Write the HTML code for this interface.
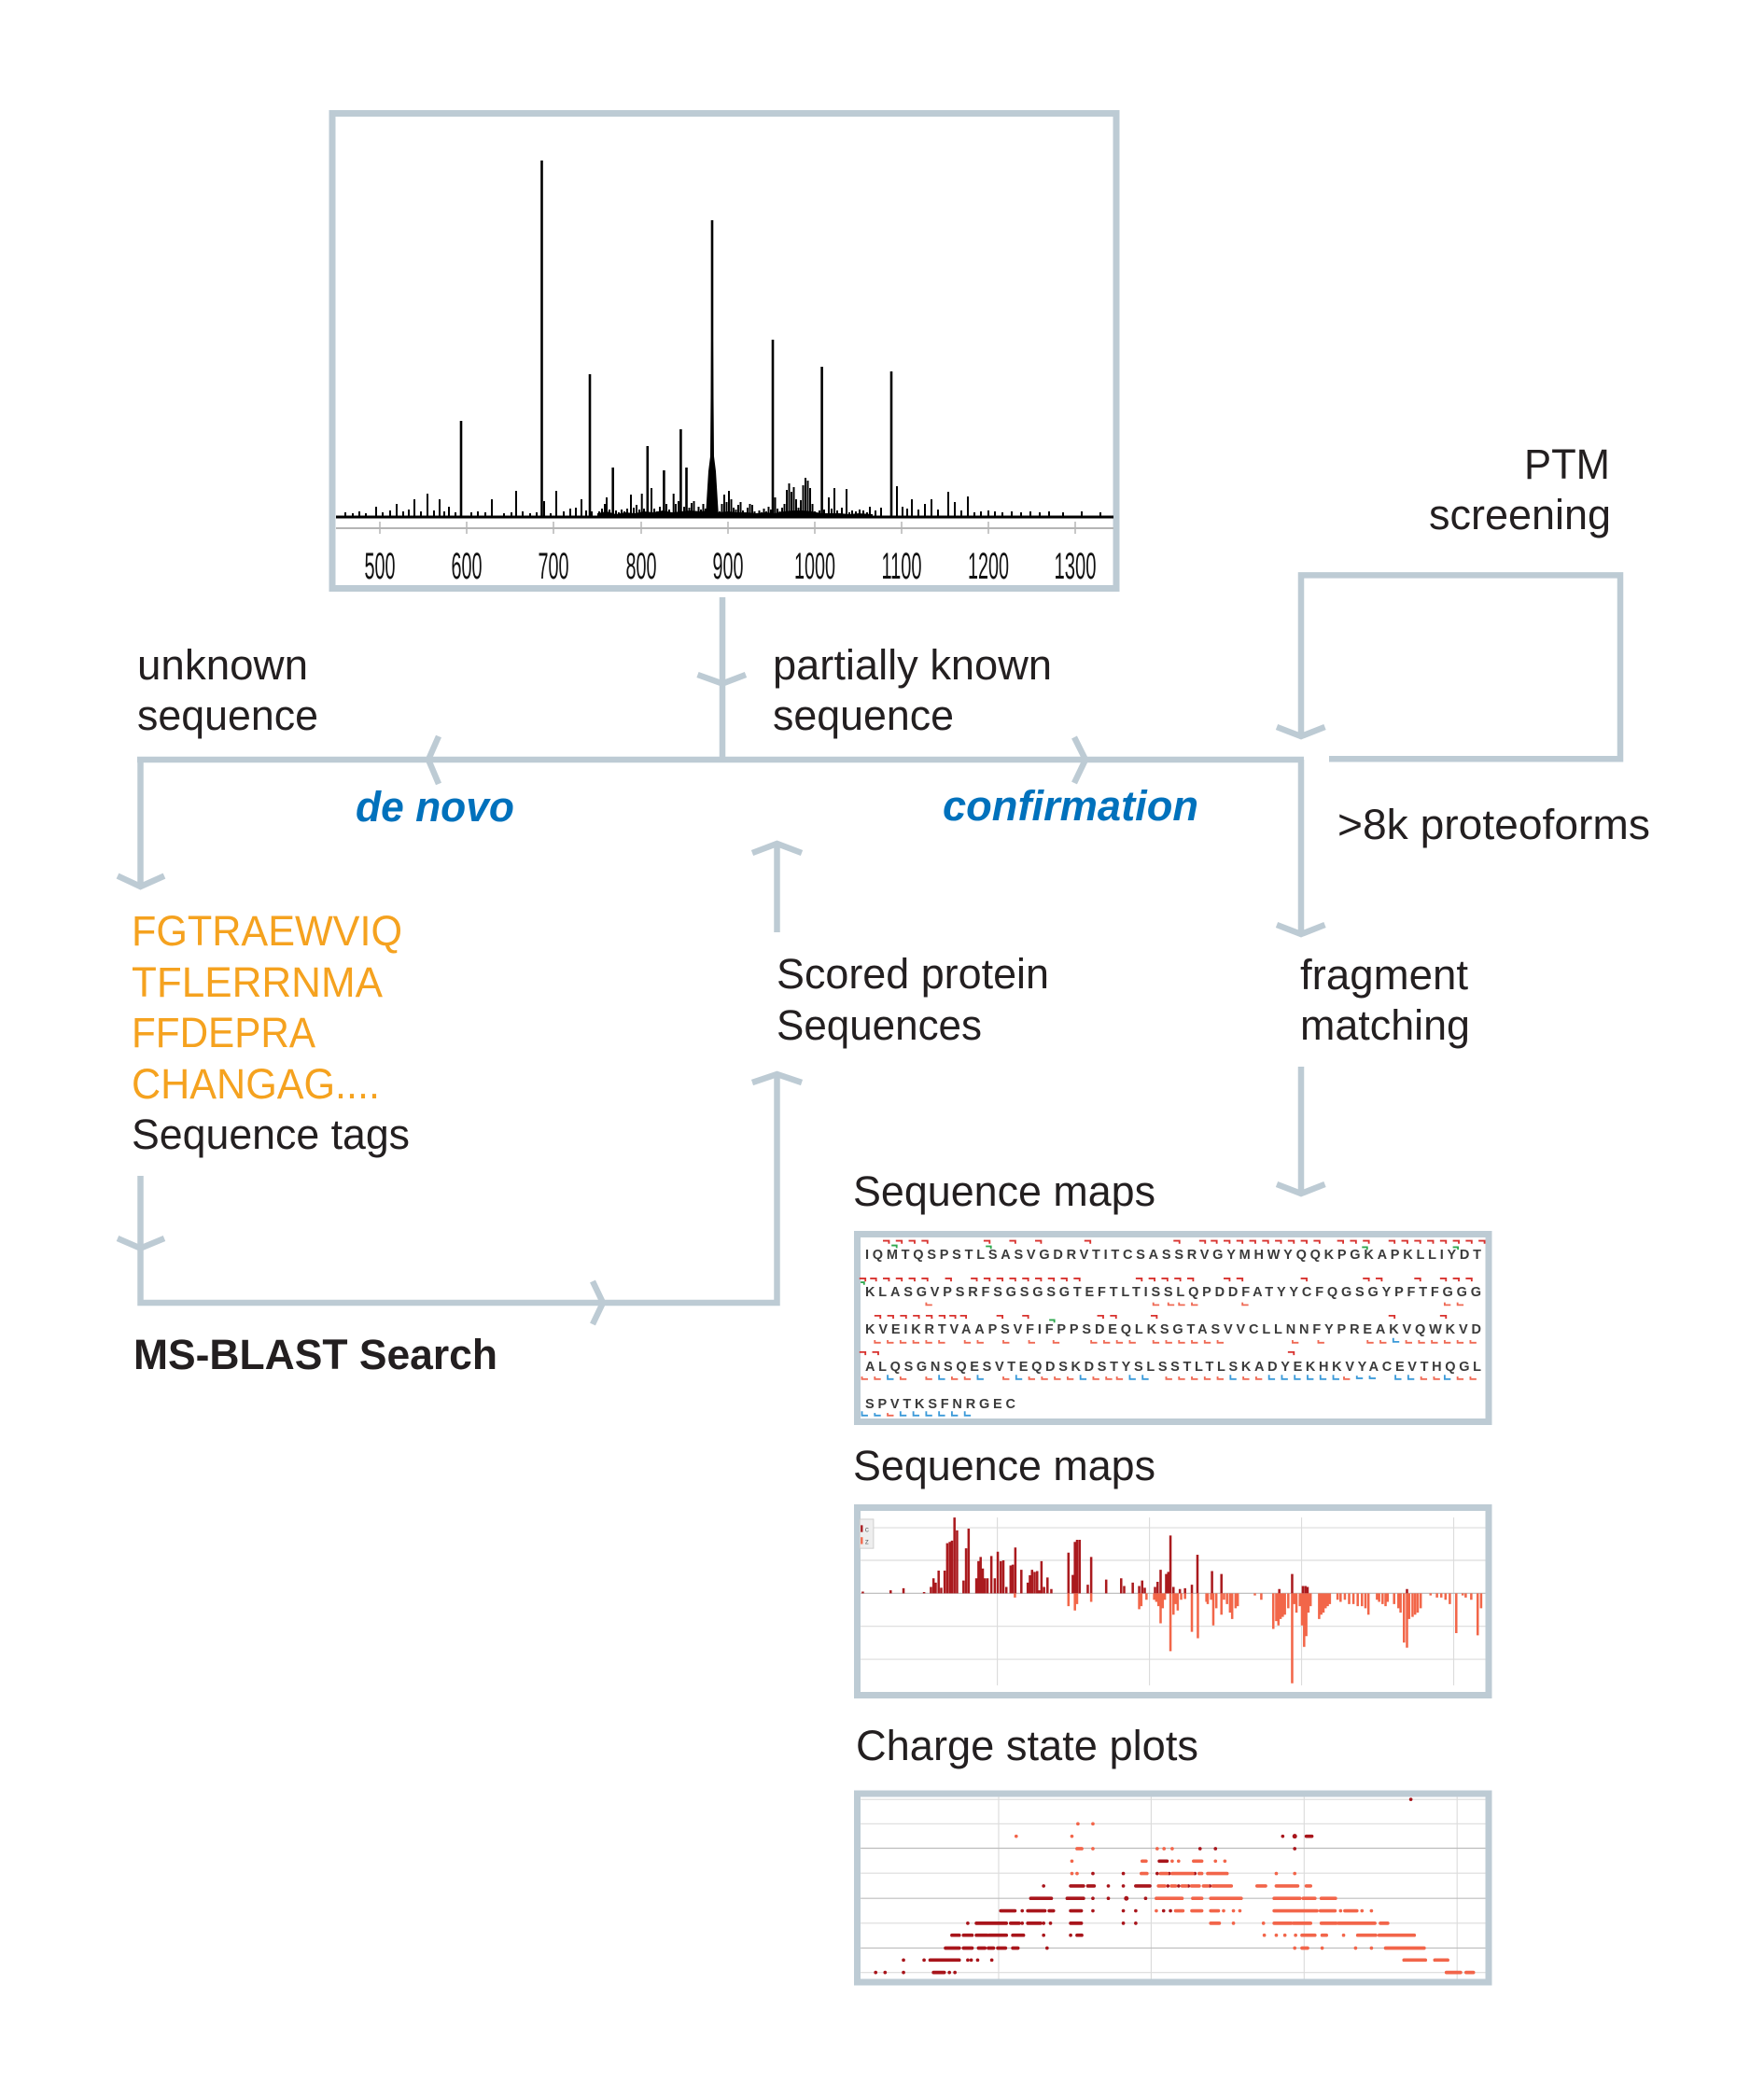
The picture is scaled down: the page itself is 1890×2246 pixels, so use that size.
<!DOCTYPE html>
<html><head><meta charset="utf-8"><style>
html,body{margin:0;padding:0;background:#fff;}
svg{display:block;}
text{font-family:"Liberation Sans",Arial,sans-serif;}
.t{font-size:45px;fill:#231f20;}
.o{font-size:45px;fill:#f5a21f;}
.b{font-size:45px;fill:#0071bc;font-weight:bold;font-style:italic;}
.ln{fill:none;stroke:#bdcbd4;stroke-width:6.5;}
.ax{font-size:40px;fill:#111;}
.seq{font-family:"Liberation Mono",monospace;font-size:14.5px;font-weight:bold;fill:#3a3a3a;}
</style></head><body>
<svg width="1890" height="2246" viewBox="0 0 1890 2246" xmlns="http://www.w3.org/2000/svg">
<rect width="1890" height="2246" fill="#fff"/>

<!-- ===== Spectrum box ===== -->
<rect x="356" y="121.5" width="840" height="509" fill="#fff" stroke="#bdcbd4" stroke-width="7"/>
<line x1="360" y1="566" x2="1193" y2="566" stroke="#b5b5b5" stroke-width="2"/>
<g stroke="#b5b5b5" stroke-width="1.5">
<path d="M407 559V572 M500 559V572 M593 559V572 M687 559V572 M780 559V572 M873 559V572 M966 559V572 M1059 559V572 M1152 559V572"/>
</g>
<g class="ax" text-anchor="middle">
<text x="407" y="620" textLength="33" lengthAdjust="spacingAndGlyphs">500</text>
<text x="500" y="620" textLength="33" lengthAdjust="spacingAndGlyphs">600</text>
<text x="593" y="620" textLength="33" lengthAdjust="spacingAndGlyphs">700</text>
<text x="687" y="620" textLength="33" lengthAdjust="spacingAndGlyphs">800</text>
<text x="780" y="620" textLength="33" lengthAdjust="spacingAndGlyphs">900</text>
<text x="873" y="620" textLength="44" lengthAdjust="spacingAndGlyphs">1000</text>
<text x="966" y="620" textLength="43" lengthAdjust="spacingAndGlyphs">1100</text>
<text x="1059" y="620" textLength="44" lengthAdjust="spacingAndGlyphs">1200</text>
<text x="1152" y="620" textLength="45" lengthAdjust="spacingAndGlyphs">1300</text>
</g>
<!-- baseline -->
<path d="M360 554 H1193" stroke="#000" stroke-width="3" fill="none"/>
<!-- dense band -->
<path d="M640 555 L640 550 L650 548 L660 551 L670 549 L680 550 L690 548 L700 549 L710 547 L720 549 L730 548 L740 547 L750 548 L760 547 L770 549 L780 548 L790 549 L800 549 L810 550 L820 549 L830 550 L840 548 L850 547 L860 547 L870 548 L880 550 L890 550 L900 550 L910 551 L920 550 L935 551 L935 555 Z" fill="#000"/>
<!-- 880 peak broad base -->
<path d="M756 554 L759 505 L761 489 L762.5 300 L763.5 300 L765 489 L767 505 L770 554 Z" fill="#000"/>
<!-- small peaks -->
<path stroke="#000" stroke-width="2" fill="none" d="M370 554V549 M378 554V550 M385 554V548 M392 554V550 M403 554V543 M410 554V549 M418 554V547 M425 554V540 M432 554V548 M438 554V546 M444 554V535 M451 554V548 M458 554V529 M465 554V547 M471 554V535 M476 554V548 M481 554V543 M488 554V549 M505 554V549 M512 554V548 M520 554V549 M527 554V535 M540 554V550 M548 554V549 M553 554V526 M560 554V548 M568 554V550 M575 554V549 M583 554V537 M590 554V550 M596 554V526 M604 554V548 M611 554V545 M617 554V544 M623 554V535 M628 554V547 M634 554V548
M642 554V548 M645 554V545 M648 554V540 M650 554V533 M653 554V546 M660 554V547 M663 554V549 M666 554V546 M669 554V548 M672 554V545 M676 554V530 M679 554V544 M682 554V541 M685 554V546 M687.7 554V529 M690 554V545 M698 554V523 M701 554V545 M704 554V548 M707 554V543 M714 554V540 M717 554V546 M721.7 554V529 M724 554V540 M727 554V537 M733 554V543
M736 554V547 M738.5 554V544 M741 554V539 M743.5 554V537 M746 554V548 M748.5 554V543 M751 554V546 M753.5 554V540 M756 554V545 M771 554V548 M773.5 554V540 M776 554V530 M778.5 554V538 M781 554V526 M783.5 554V535 M786 554V544 M788.5 554V546 M791 554V541 M793.5 554V538 M796 554V547 M798.5 554V549 M801 554V544 M803.5 554V540 M806 554V541 M808.5 554V548 M811 554V550 M813.5 554V547 M816 554V549 M818.5 554V545 M821 554V548 M823.5 554V543 M826 554V546 M830.5 554V533 M833 554V545 M835.5 554V548 M838 554V544 M840.5 554V540 M843 554V525 M845.5 554V518 M848 554V527 M850.5 554V522 M853 554V535 M855.5 554V544 M858 554V536 M860.5 554V520 M863 554V512 M865.5 554V515 M868 554V523 M870.5 554V540 M873 554V548 M876 554V550 M878 554V547 M883 554V546 M888 554V533 M891 554V545 M894 554V523 M897 554V547 M902 554V544 M907 554V524 M910 554V549 M913 554V547 M917 554V548 M921 554V546 M925 554V547 M929 554V549
M932 554V543 M938 554V547 M944 554V544 M961 554V521 M967 554V543 M972 554V545 M977 554V535 M984 554V546 M991 554V540 M998 554V535 M1005 554V546 M1016 554V527 M1023 554V538 M1030 554V547 M1037 554V532 M1044 554V549 M1051 554V548 M1059 554V547 M1066 554V548 M1074 554V549 M1084 554V548 M1094 554V549 M1104 554V548 M1114 554V549 M1124 554V548 M1139 554V549 M1159 554V548 M1179 554V549"/>
<!-- major peaks -->
<path stroke="#000" stroke-width="2.6" fill="none" d="M494 554V451 M580.5 554V172 M632 554V401 M656.7 554V501 M693.8 554V478 M711.4 554V504 M729.4 554V460 M735.5 554V501 M763 554V236 M828 554V364 M880.6 554V393 M955 554V398"/>

<!-- ===== Flow lines ===== -->
<path class="ln" d="M774 640V814 M147 814H1397 M150.5 814V950 M1394 814V1001 M1394 789V616.4H1736V813.3H1424 M1394 1143V1279 M832.5 904V999 M150.5 1260V1396H832.5V1151"/>
<g class="ln">
<path d="M747.5 723L774 732.5L799 723"/>
<path d="M470 789L459 814L470 840"/>
<path d="M1151 790L1163 814L1151 839"/>
<path d="M126 938.6L150.5 950L176 938.6"/>
<path d="M1368 991L1394 1001L1419.5 991"/>
<path d="M1368 779L1394 789L1419.5 779"/>
<path d="M1368 1269L1394 1279L1419.5 1269"/>
<path d="M806 914L832.5 904L859 914"/>
<path d="M806 1160L832.5 1151L859 1160"/>
<path d="M126 1327L150.5 1337.6L176 1327"/>
<path d="M635 1373L646 1396L635 1419"/>
</g>

<!-- ===== Texts ===== -->
<text class="t" x="1725" y="513" text-anchor="end" textLength="92" lengthAdjust="spacingAndGlyphs">PTM</text>
<text class="t" x="1726" y="567" text-anchor="end" textLength="195" lengthAdjust="spacingAndGlyphs">screening</text>
<text class="t" x="147" y="728" textLength="183" lengthAdjust="spacingAndGlyphs">unknown</text>
<text class="t" x="147" y="782" textLength="194" lengthAdjust="spacingAndGlyphs">sequence</text>
<text class="t" x="828" y="728" textLength="299" lengthAdjust="spacingAndGlyphs">partially known</text>
<text class="t" x="828" y="782" textLength="194" lengthAdjust="spacingAndGlyphs">sequence</text>
<text class="b" x="381" y="880" textLength="170" lengthAdjust="spacingAndGlyphs">de novo</text>
<text class="b" x="1010" y="879" textLength="274" lengthAdjust="spacingAndGlyphs">confirmation</text>
<text class="t" x="1433" y="899" textLength="335" lengthAdjust="spacingAndGlyphs">&gt;8k proteoforms</text>
<text class="o" x="141" y="1013" textLength="290" lengthAdjust="spacingAndGlyphs">FGTRAEWVIQ</text>
<text class="o" x="141" y="1068" textLength="269" lengthAdjust="spacingAndGlyphs">TFLERRNMA</text>
<text class="o" x="141" y="1122" textLength="197" lengthAdjust="spacingAndGlyphs">FFDEPRA</text>
<text class="o" x="141" y="1177" textLength="266" lengthAdjust="spacingAndGlyphs">CHANGAG....</text>
<text class="t" x="141" y="1231" textLength="298" lengthAdjust="spacingAndGlyphs">Sequence tags</text>
<text class="t" x="143" y="1467" font-weight="bold" textLength="390" lengthAdjust="spacingAndGlyphs">MS-BLAST Search</text>
<text class="t" x="832" y="1059" textLength="292" lengthAdjust="spacingAndGlyphs">Scored protein</text>
<text class="t" x="832" y="1114" textLength="220" lengthAdjust="spacingAndGlyphs">Sequences</text>
<text class="t" x="1393" y="1060" textLength="180" lengthAdjust="spacingAndGlyphs">fragment</text>
<text class="t" x="1393" y="1114" textLength="182" lengthAdjust="spacingAndGlyphs">matching</text>
<text class="t" x="914" y="1292" textLength="324" lengthAdjust="spacingAndGlyphs">Sequence maps</text>
<text class="t" x="914" y="1586" textLength="324" lengthAdjust="spacingAndGlyphs">Sequence maps</text>
<text class="t" x="917" y="1886" textLength="367" lengthAdjust="spacingAndGlyphs">Charge state plots</text>

<!-- ===== Box 1: sequence map ===== -->
<rect x="918.5" y="1322.5" width="676.5" height="201" fill="#fff" stroke="#bdcbd4" stroke-width="7"/>
<g class="seq">
<text x="927" y="1349" textLength="660" lengthAdjust="spacing">IQMTQSPSTLSASVGDRVTITCSASSRVGYMHWYQQKPGKAPKLLIYDT</text>
<text x="927" y="1389" textLength="660" lengthAdjust="spacing">KLASGVPSRFSGSGSGTEFTLTISSLQPDDFATYYCFQGSGYPFTFGGG</text>
<text x="927" y="1429" textLength="660" lengthAdjust="spacing">KVEIKRTVAAPSVFIFPPSDEQLKSGTASVVCLLNNFYPREAKVQWKVD</text>
<text x="927" y="1469" textLength="660" lengthAdjust="spacing">ALQSGNSQESVTEQDSKDSTYSLSSTLTLSKADYEKHKVYACEVTHQGL</text>
<text x="927" y="1509" textLength="161" lengthAdjust="spacing">SPVTKSFNRGEC</text>
</g>
<g transform="translate(890,1240) scale(0.4591)" fill="none" stroke-width="4">
<path stroke="#d8322e" d="M122 195h14v7 M152 195h14v7 M182 195h14v7 M212 195h14v7 M357 195h14v7 M417 195h14v7 M477 195h14v7 M592 195h14v7 M800 195h14v7 M860 195h14v7 M887 195h14v7 M917 195h14v7 M947 195h14v7 M977 195h14v7 M1007 195h14v7 M1037 195h14v7 M1067 195h14v7 M1097 195h14v7 M1127 195h14v7 M1182 195h14v7 M1212 195h14v7 M1242 195h14v7 M1302 195h14v7 M1332 195h14v7 M1362 195h14v7 M1392 195h14v7 M1422 195h14v7 M1452 195h14v7 M1482 195h14v7 M1512 195h14v7
M67 283h14v7 M92 283h14v7 M122 283h14v7 M152 283h14v7 M182 283h14v7 M212 283h14v7 M267 283h14v7 M327 283h14v7 M357 283h14v7 M387 283h14v7 M417 283h14v7 M447 283h14v7 M477 283h14v7 M507 283h14v7 M537 283h14v7 M567 283h14v7 M712 283h14v7 M742 283h14v7 M772 283h14v7 M802 283h14v7 M832 283h14v7 M917 283h14v7 M947 283h14v7 M1097 283h14v7 M1242 283h14v7 M1272 283h14v7 M1362 283h14v7 M1422 283h14v7 M1452 283h14v7 M1482 283h14v7
M102 370h14v7 M132 370h14v7 M162 370h14v7 M192 370h14v7 M222 370h14v7 M252 370h14v7 M277 370h14v7 M302 370h14v7 M387 370h14v7 M447 370h14v7 M622 370h14v7 M652 370h14v7 M747 370h14v7 M1302 370h14v7 M1422 370h14v7
M67 455h14v7 M97 455h14v7 M1067 455h14v7"/>
<path stroke="#2fa84f" d="M142 206h12v6 M362 208h12v6 M510 380h12v6 M1240 210h12v6 M1452 210h12v6 M70 292h8v6"/>
<path stroke="#ef6a55" d="M223 339v6h14 M753 339v6h14 M788 339v6h14 M813 339v6h14 M843 339v6h14 M961 339v6h14 M1433 339v6h14 M1463 339v6h14
M103 427v6h14 M133 427v6h14 M163 427v6h14 M193 427v6h14 M223 427v6h14 M253 427v6h14 M313 427v6h14 M343 427v6h14 M403 427v6h14 M463 427v6h14 M520 427v6h14 M608 427v6h14 M638 427v6h14 M668 427v6h14 M698 427v6h14 M753 427v6h14 M783 427v6h14 M813 427v6h14 M843 427v6h14 M873 427v6h14 M903 427v6h14 M1078 427v6h14 M1138 427v6h14 M1253 427v6h14 M1283 427v6h14 M1343 427v6h14 M1373 427v6h14 M1403 427v6h14 M1433 427v6h14 M1463 427v6h14 M1493 427v6h14
M73 512v6h14 M103 512v6h14 M163 512v6h14 M223 512v6h14 M283 512v6h14 M313 512v6h14 M403 512v6h14 M463 512v6h14 M493 512v6h14 M523 512v6h14 M553 512v6h14 M613 512v6h14 M643 512v6h14 M668 512v6h14 M783 512v6h14 M813 512v6h14 M843 512v6h14 M873 512v6h14 M903 512v6h14 M963 512v6h14 M993 512v6h14 M1198 512v6h14 M1378 512v6h14 M1408 512v6h14 M1463 512v6h14 M1493 512v6h14
M133 597v6h14"/>
<path stroke="#3b9ad9" d="M1313 422v9h14 M133 508v10h14 M253 508v10h14 M343 508v10h14 M433 508v10h14 M583 508v10h14 M698 508v10h14 M728 508v10h14 M933 508v10h14 M1023 508v10h14 M1053 508v10h14 M1083 508v10h14 M1113 508v10h14 M1143 508v10h14 M1173 508v10h14 M1228 510v6h14 M1258 510v6h14 M1318 508v10h14 M1348 508v10h14 M1433 508v10h14
M73 593v10h14 M103 597v6h14 M163 593v10h14 M193 593v10h14 M223 593v10h14 M253 593v10h14 M283 593v10h14 M313 593v10h14"/>
</g>

<!-- ===== Box 2: fragment bar map ===== -->
<rect x="918.5" y="1615.5" width="676.5" height="201" fill="#fff" stroke="#bdcbd4" stroke-width="7"/>
<g transform="translate(890,1526) scale(0.4591)">
<path stroke="#dcdcdc" stroke-width="2.5" fill="none" d="M70 242H1528 M70 318H1528 M70 472H1528 M70 549H1528 M389 218V610 M744 218V610 M1099 218V610 M1454 218V610"/>
<path stroke="#b8b8b8" stroke-width="2.5" fill="none" d="M70 395H1528"/>
<rect x="68" y="222" width="32" height="68" fill="#eeeeee" stroke="#cccccc" stroke-width="2"/>
<rect x="70" y="236" width="5" height="16" fill="#a8171b"/>
<rect x="70" y="264" width="5" height="16" fill="#f26649"/>
<text x="80" y="252" font-size="18" fill="#666">c</text>
<text x="80" y="280" font-size="18" fill="#666">z</text>
<path stroke="#aa1a1e" stroke-width="5.5" fill="none" d="M75 395V391 M140 395V388 M170 395V383 M218 395V392 M234 395V380 M240 395V360 M245 395V370 M252 395V342 M258 395V382 M266 395V342 M272 395V278 M278 395V275 M283 395V272 M289 395V218 M295 395V248 M310 395V365 M316 395V290 M322 395V244 M340 395V360 M345 395V320 M350 395V310 M355 395V337 M360 395V360 M366 395V360 M375 395V308 M383 395V360 M390 395V298 M397 395V320 M403 395V318 M410 395V380 M420 395V330 M425 395V328 M431 395V288 M445 395V340 M460 395V370 M465 395V353 M470 395V340 M476 395V345 M482 395V343 M487 395V388 M492 395V320 M498 395V380 M506 395V358 M515 395V385 M555 395V300 M565 395V352 M570 395V275 M575 395V270 M581 395V270 M600 395V375 M608 395V310 M643 395V363 M678 395V360 M685 395V378 M705 395V370 M720 395V378 M727 395V365 M733 395V382 M757 395V380 M763 395V368 M770 395V340 M783 395V350 M788 395V345 M793 395V260 M800 395V380 M815 395V385 M827 395V383 M843 395V375 M856 395V305 M890 395V343 M912 395V350 M1047 395V385 M1077 395V350 M1102 395V378 M1108 395V378 M1113 395V380 M1345 395V385"/>
<path stroke="#f26649" stroke-width="5.5" fill="none" d="M430 395V405 M555 395V425 M570 395V435 M575 395V420 M608 395V415 M720 395V432 M725 395V425 M737 395V410 M755 395V410 M760 395V415 M765 395V425 M770 395V465 M775 395V430 M780 395V410 M793 395V530 M800 395V445 M805 395V420 M810 395V435 M818 395V410 M827 395V408 M843 395V485 M857 395V500 M877 395V415 M880 395V420 M888 395V410 M893 395V470 M900 395V430 M912 395V445 M918 395V410 M925 395V420 M932 395V440 M937 395V455 M945 395V430 M950 395V425 M990 395V400 M1005 395V410 M1033 395V478 M1040 395V460 M1045 395V470 M1050 395V455 M1055 395V450 M1060 395V445 M1068 395V430 M1077 395V605 M1082 395V420 M1087 395V440 M1095 395V425 M1100 395V470 M1105 395V520 M1110 395V495 M1115 395V440 M1120 395V425 M1140 395V455 M1145 395V445 M1150 395V440 M1155 395V430 M1160 395V425 M1165 395V420 M1183 395V410 M1190 395V415 M1200 395V410 M1210 395V420 M1220 395V420 M1230 395V425 M1240 395V425 M1248 395V430 M1255 395V445 M1275 395V410 M1280 395V415 M1288 395V420 M1295 395V425 M1300 395V415 M1315 395V420 M1325 395V430 M1330 395V440 M1338 395V510 M1345 395V522 M1350 395V455 M1358 395V450 M1364 395V445 M1370 395V440 M1377 395V430 M1400 395V400 M1415 395V405 M1425 395V405 M1435 395V410 M1445 395V420 M1460 395V488 M1475 395V400 M1482 395V405 M1495 395V410 M1510 395V493 M1518 395V430"/>
</g>

<!-- ===== Box 3: charge state plot ===== -->
<rect x="918.5" y="1922" width="676.5" height="202" fill="#fff" stroke="#bdcbd4" stroke-width="7"/>
<g transform="translate(890,1526) scale(0.4591)">
<path stroke="#dcdcdc" stroke-width="2.5" fill="none" d="M70 876H1528 M70 933H1528 M70 1048H1528 M70 1165H1528 M70 1280H1528 M392 870V1295 M748 870V1295 M1105 870V1295 M1462 870V1295"/>
<path stroke="#bdbdbd" stroke-width="2.5" fill="none" d="M70 990H1528 M70 1107H1528 M70 1223H1528"/>
<g fill="none" stroke-linecap="round" stroke-width="8">
<path stroke="#a8151b" d="M105 1280h0 M127 1280h0 M170 1280h0 M240 1280H265 M277 1280h0 M290 1280h0
M170 1251h0 M218 1251h0 M232 1251H300 M320 1251h0 M328 1251h0 M343 1251h0 M376 1251h0
M268 1223H300 M310 1223H330 M345 1223H360 M368 1223H380 M390 1223H408 M425 1223H437 M505 1223h0
M283 1193H300 M310 1193H330 M340 1193H365 M370 1193H410 M425 1193H450 M497 1193h0 M560 1193h0 M575 1193H586
M320 1165h0 M340 1165H410 M420 1165H440 M447 1165h0 M460 1165H490 M497 1165h0 M513 1165h0 M560 1165H585 M683 1165h0 M712 1165h0
M397 1136H430 M447 1136h0 M460 1136H500 M510 1136H520 M560 1136H585 M612 1136h0 M683 1136h0 M712 1136h0 M777 1136h0 M793 1136h0
M467 1107H515 M552 1107H590 M612 1107h0 M648 1107h0 M735 1107h0
M497 1078h0 M560 1078H590 M600 1078H615 M648 1078h0 M683 1078h0 M712 1078H745 M787 1078h0 M812 1078h0 M835 1078h0 M885 1078h0
M612 1049h0 M683 1049h0 M762 1049h0 M790 1049h0 M850 1049h0
M767 1020H785 M862 991h0 M898 991h0 M1083 991h0
M1055 962h0 M1110 962H1123 M1354 876h0"/>
<path stroke="#a8151b" stroke-width="11" d="M690 1107h0 M1083 962h0"/>
<path stroke="#f2654a" d="M1437 1280H1470 M1483 1280H1500
M1338 1251H1388 M1410 1251H1440
M1083 1223h0 M1100 1223H1113 M1147 1223h0 M1225 1223h0 M1262 1223h0 M1295 1223H1385
M1012 1193h0 M1040 1193h0 M1060 1193h0 M1085 1193h0 M1100 1193H1130 M1147 1193H1157 M1197 1193h0 M1230 1193H1272 M1280 1193H1362
M887 1165H907 M940 1165h0 M1010 1165h0 M1035 1165H1075 M1080 1165H1120 M1145 1165H1180 M1185 1165H1270 M1283 1165H1300
M760 1136h0 M805 1136H822 M843 1136H866 M887 1136H905 M917 1136h0 M940 1136h0 M955 1136h0 M1035 1136H1135 M1143 1136H1177 M1190 1136h0 M1200 1136H1228 M1240 1136h0 M1262 1136h0
M760 1107H820 M845 1107H866 M887 1107H958 M1035 1107H1095 M1103 1107H1130 M1145 1107H1178
M765 1078H780 M795 1078H805 M820 1078H830 M842 1078H860 M870 1078H880 M892 1078H935 M995 1078H1015 M1040 1078H1090 M1110 1078H1120
M563 1049h0 M575 1049h0 M725 1049H738 M770 1049H785 M797 1049H845 M860 1049H866 M880 1049H925 M1040 1049h0 M1083 1049h0
M563 1020h0 M727 1020H736 M797 1020h0 M812 1020h0 M847 1020H866 M898 1020h0 M920 1020h0
M575 991H586 M612 991h0 M762 991h0 M778 991h0 M797 991h0
M433 962h0 M563 962h0 M577 933h0 M612 933h0"/>
</g>
</g>
</svg>
</body></html>
